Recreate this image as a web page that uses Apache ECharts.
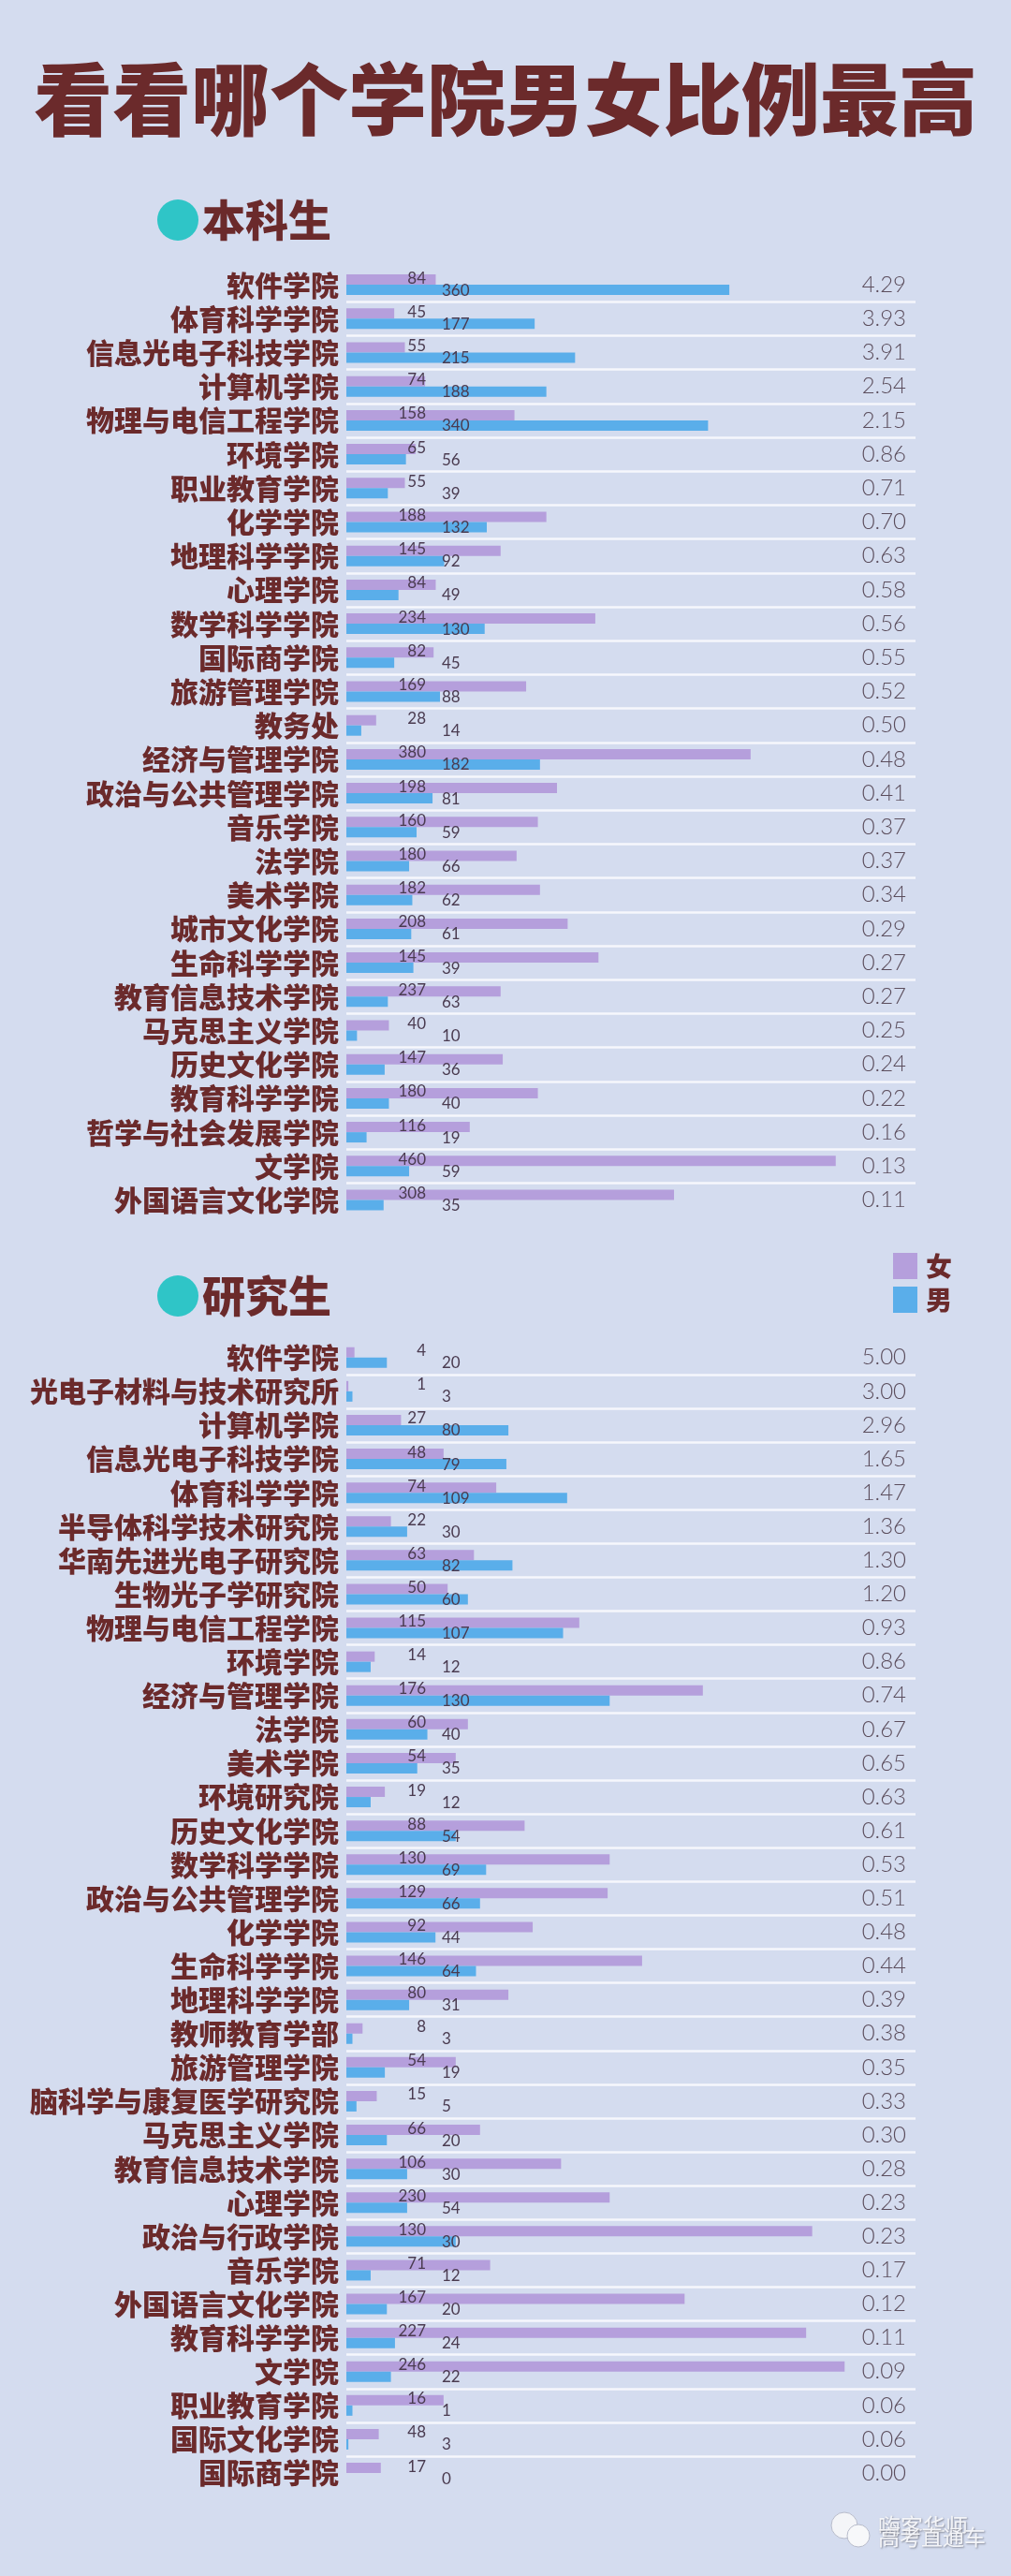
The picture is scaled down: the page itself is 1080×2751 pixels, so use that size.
<!DOCTYPE html>
<html>
<head>
<meta charset="utf-8">
<script src="https://cdn.jsdelivr.net/npm/echarts@6/dist/echarts.min.js"></script>
<style>
html,body{margin:0;padding:0;background:#d4dcef;}
#c{width:1080px;height:2751px;}
</style>
</head>
<body>
<div id="c"></div>
<script>
// ---------- 本科生 ----------
var ugCategories = ['软件学院','体育科学学院','信息光电子科技学院','计算机学院','物理与电信工程学院','环境学院','职业教育学院','化学学院','地理科学学院','心理学院','数学科学学院','国际商学院','旅游管理学院','教务处','经济与管理学院','政治与公共管理学院','音乐学院','法学院','美术学院','城市文化学院','生命科学学院','教育信息技术学院','马克思主义学院','历史文化学院','教育科学学院','哲学与社会发展学院','文学院','外国语言文化学院'];
// printed value labels
var ugFemaleLabel = [84,45,55,74,158,65,55,188,145,84,234,82,169,28,380,198,160,180,182,208,145,237,40,147,180,116,460,308];
var ugMaleLabel   = [360,177,215,188,340,56,39,132,92,49,130,45,88,14,182,81,59,66,62,61,39,63,10,36,40,19,59,35];
// bar lengths as drawn in the picture (tied rows appear swapped)
var ugFemaleBar = [84,45,55,74,158,65,55,188,145,84,234,82,169,28,380,198,180,160,182,208,237,145,40,147,180,116,460,308];
var ugMaleBar   = [360,177,215,188,340,56,39,132,92,49,130,45,88,14,182,81,66,59,62,61,63,39,10,36,40,19,59,35];
var ugRatio = ['4.29','3.93','3.91','2.54','2.15','0.86','0.71','0.70','0.63','0.58','0.56','0.55','0.52','0.50','0.48','0.41','0.37','0.37','0.34','0.29','0.27','0.27','0.25','0.24','0.22','0.16','0.13','0.11'];

// ---------- 研究生 ----------
var pgCategories = ['软件学院','光电子材料与技术研究所','计算机学院','信息光电子科技学院','体育科学学院','半导体科学技术研究院','华南先进光电子研究院','生物光子学研究院','物理与电信工程学院','环境学院','经济与管理学院','法学院','美术学院','环境研究院','历史文化学院','数学科学学院','政治与公共管理学院','化学学院','生命科学学院','地理科学学院','教师教育学部','旅游管理学院','脑科学与康复医学研究院','马克思主义学院','教育信息技术学院','心理学院','政治与行政学院','音乐学院','外国语言文化学院','教育科学学院','文学院','职业教育学院','国际文化学院','国际商学院'];
var pgFemaleLabel = [4,1,27,48,74,22,63,50,115,14,176,60,54,19,88,130,129,92,146,80,8,54,15,66,106,230,130,71,167,227,246,16,48,17];
var pgMaleLabel   = [20,3,80,79,109,30,82,60,107,12,130,40,35,12,54,69,66,44,64,31,3,19,5,20,30,54,30,12,20,24,22,1,3,0];
var pgFemaleBar = [4,1,27,48,74,22,63,50,115,14,176,60,54,19,88,130,129,92,146,80,8,54,15,66,106,130,230,71,167,227,246,48,16,17];
var pgMaleBar   = [20,3,80,79,109,30,82,60,107,12,130,40,35,12,54,69,66,44,64,31,3,19,5,20,30,30,54,12,20,24,22,3,1,0];
var pgRatio = ['5.00','3.00','2.96','1.65','1.47','1.36','1.30','1.20','0.93','0.86','0.74','0.67','0.65','0.63','0.61','0.53','0.51','0.48','0.44','0.39','0.38','0.35','0.33','0.30','0.28','0.23','0.23','0.17','0.12','0.11','0.09','0.06','0.06','0.00'];

var legendNames = ['女','男'];

var MAROON = '#6b2a2b';
var PURPLE = '#b59fdc';
var BLUE = '#5aaeea';
var CJK = '"Noto Sans CJK SC", "Noto Sans", sans-serif';
var NUM = 'Lato, Roboto, "Open Sans", sans-serif';

var chart = echarts.init(document.getElementById('c'), null, {renderer: 'canvas'});

function catAxis(grid, cats) {
  return {
    gridIndex: grid, type: 'category', data: cats, inverse: true,
    axisLine: {show: false}, axisTick: {show: false},
    axisLabel: {interval: 0, margin: 8, color: MAROON, fontFamily: CJK, fontWeight: 900, fontSize: 30, padding: [0, 0, 10, 0]},
    splitLine: {show: true, interval: 0, showMinLine: false, showMaxLine: false, lineStyle: {color: '#f6f7fc', width: 2.5}}
  };
}
function ratioAxis(grid, cats, ratios) {
  return {
    gridIndex: grid, type: 'category', data: cats, inverse: true, position: 'right',
    axisLine: {show: false}, axisTick: {show: false}, splitLine: {show: false},
    axisLabel: {interval: 0, inside: true, margin: 10, color: '#5b4d5c', fontFamily: NUM, fontWeight: 300, fontSize: 24,
      formatter: function (v, i) { return ratios[i]; }}
  };
}
function barSeries(name, xi, yi, data, labels, color, pos, align) {
  return {
    name: name, type: 'bar', xAxisIndex: xi, yAxisIndex: yi, data: data,
    barWidth: 11, barGap: '0%', itemStyle: {color: color},
    label: {show: true, position: pos, align: align, verticalAlign: 'middle',
      color: '#4a3b50', fontFamily: NUM, fontSize: 17,
      formatter: function (p) { return String(labels[p.dataIndex]); }},
    silent: true, animation: false
  };
}

var ugRow = 36.2, pgRow = 36.1;

var option = {
  backgroundColor: '#d4dcef',
  animation: false,
  grid: [
    {left: 370, top: 286, width: 608, height: ugRow * ugCategories.length},
    {left: 370, top: 1431.7, width: 608, height: pgRow * pgCategories.length}
  ],
  legend: {
    data: legendNames, orient: 'vertical', left: 949, top: 1333,
    itemWidth: 26, itemHeight: 28, itemGap: 8, icon: 'rect',
    textStyle: {color: MAROON, fontFamily: CJK, fontWeight: 900, fontSize: 28, padding: [0, 0, 0, 4]},
    selectedMode: false
  },
  xAxis: [
    {gridIndex: 0, type: 'value', min: 0, max: 535, show: false},
    {gridIndex: 1, type: 'value', min: 0, max: 281, show: false}
  ],
  yAxis: [
    catAxis(0, ugCategories),
    ratioAxis(0, ugCategories, ugRatio),
    catAxis(1, pgCategories),
    ratioAxis(1, pgCategories, pgRatio)
  ],
  series: [
    barSeries('女', 0, 0, ugFemaleBar, ugFemaleLabel, PURPLE, [85, 4], 'right'),
    barSeries('男', 0, 0, ugMaleBar, ugMaleLabel, BLUE, [102, 6], 'left'),
    barSeries('女', 1, 2, pgFemaleBar, pgFemaleLabel, PURPLE, [85, 4], 'right'),
    barSeries('男', 1, 2, pgMaleBar, pgMaleLabel, BLUE, [102, 6], 'left')
  ],
  graphic: [
    {type: 'text', left: 'center', top: 64, style: {text: '看看哪个学院男女比例最高', fill: MAROON,
      font: '900 84px ' + CJK}},
    {type: 'circle', shape: {cx: 190, cy: 235, r: 22}, style: {fill: '#2fc5c7'}},
    {type: 'text', x: 216, y: 235, style: {text: '本科生', fill: MAROON, font: '900 46px ' + CJK, textVerticalAlign: 'middle'}},
    {type: 'circle', shape: {cx: 190, cy: 1384, r: 22}, style: {fill: '#2fc5c7'}},
    {type: 'text', x: 216, y: 1384, style: {text: '研究生', fill: MAROON, font: '900 46px ' + CJK, textVerticalAlign: 'middle'}},
    // watermark
    {type: 'circle', shape: {cx: 902, cy: 2697, r: 14}, style: {fill: '#f4f5f8', stroke: '#b8bccb', lineWidth: 1}},
    {type: 'circle', shape: {cx: 917, cy: 2708, r: 12}, style: {fill: '#f7f8fa', stroke: '#b8bccb', lineWidth: 1}},
    {type: 'text', x: 938, y: 2686, style: {text: '嗨客华师', fill: '#f4f5f8', font: '24px ' + CJK,
      textShadowColor: 'rgba(80,80,90,0.6)', textShadowBlur: 2, textShadowOffsetX: 1, textShadowOffsetY: 1}},
    {type: 'text', x: 938, y: 2698, style: {text: '高考直通车', fill: '#f4f5f8', font: '23px ' + CJK,
      textShadowColor: 'rgba(80,80,90,0.6)', textShadowBlur: 2, textShadowOffsetX: 1, textShadowOffsetY: 1}}
  ]
};
chart.setOption(option);
</script>
</body>
</html>
